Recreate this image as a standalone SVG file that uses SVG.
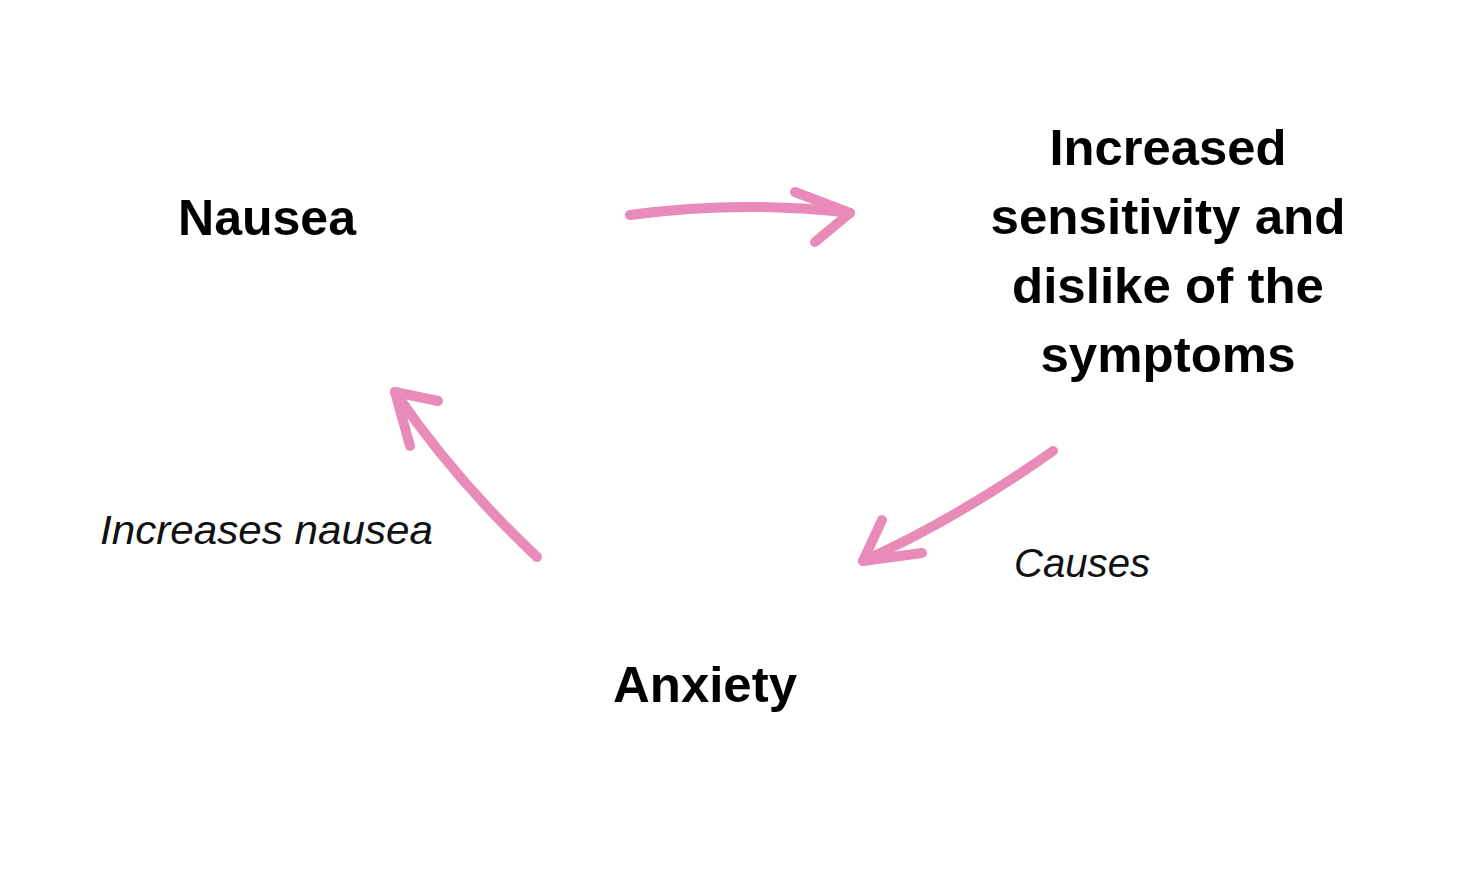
<svg xmlns="http://www.w3.org/2000/svg" width="1466" height="879" viewBox="0 0 1466 879">
<style>
.node{font-family:"Liberation Sans",Arial,sans-serif;font-weight:bold;font-size:50px;fill:#000;text-anchor:middle}
.lbl{font-family:"Liberation Sans",Arial,sans-serif;font-style:italic;font-size:40px;fill:#111}
.arr{fill:none;stroke:#E98BB8;stroke-width:10;stroke-linecap:round;stroke-linejoin:round}
</style>
<rect width="1466" height="879" fill="#fff"/>
<g id="nausea"><text class="node" x="267" y="235" textLength="178" lengthAdjust="spacingAndGlyphs">Nausea</text></g>
<g id="sensitivity">
<text class="node" x="1168" y="165" textLength="237" lengthAdjust="spacingAndGlyphs">Increased</text>
<text class="node" x="1168" y="234" textLength="355" lengthAdjust="spacingAndGlyphs">sensitivity and</text>
<text class="node" x="1168" y="303" textLength="312" lengthAdjust="spacingAndGlyphs">dislike of the</text>
<text class="node" x="1168" y="372" textLength="255" lengthAdjust="spacingAndGlyphs">symptoms</text>
</g>
<g id="anxiety"><text class="node" x="705" y="702" textLength="184" lengthAdjust="spacingAndGlyphs">Anxiety</text></g>
<g id="connectors">
<path class="arr" d="M630,215 Q740,200 850,213"/>
<path class="arr" d="M795,192 L850,213 L815,242"/>
<path class="arr" d="M537,557 Q455,480 395,392"/>
<path class="arr" d="M438,401 L395,392 L410,446"/>
<path class="arr" d="M1053,451 Q955,520 863,561"/>
<path class="arr" d="M882,520 L863,561 L922,553"/>
<text class="lbl" x="100" y="544" textLength="333" lengthAdjust="spacingAndGlyphs">Increases nausea</text>
<text class="lbl" x="1014" y="577" textLength="136" lengthAdjust="spacingAndGlyphs">Causes</text>
</g>
</svg>
